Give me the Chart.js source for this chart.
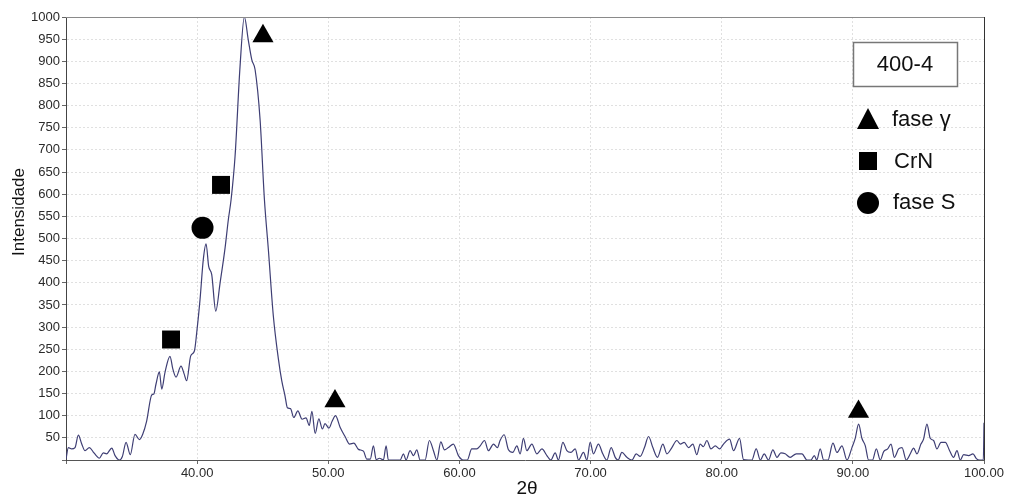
<!DOCTYPE html>
<html>
<head>
<meta charset="utf-8">
<title>DRX 400-4</title>
<script src="https://cdn.jsdelivr.net/npm/chart.js@4.4.1/dist/chart.umd.min.js"></script>
<style>
  html, body { margin: 0; padding: 0; background: #fff; }
  #wrap { width: 1010px; height: 502px; }
</style>
</head>
<body>
<div id="wrap"><canvas id="xrd" width="1010" height="502"></canvas></div>
<script>
// difratograma da amostra 400-4 (2θ x intensidade)
const twoTheta = [
  30.00, 30.18, 30.43, 30.69, 30.94, 31.20, 31.45, 31.78, 32.08, 32.30, 32.54, 32.85, 33.10, 33.49, 33.74,
  34.07, 34.30, 34.58, 34.90, 35.26, 35.60, 35.85, 36.15, 36.54, 36.70, 36.86, 37.12, 37.30, 37.55, 37.93,
  38.15, 38.39, 38.77, 39.00, 39.20, 39.51, 39.79, 39.97, 40.22, 40.47, 40.68, 40.88, 41.11, 41.42, 41.75,
  42.13, 42.38, 42.59, 42.89, 43.27, 43.60, 43.90, 44.17, 44.42, 44.80, 45.13, 45.43, 45.81, 46.20, 46.45,
  46.70, 46.88, 47.12, 47.37, 47.68, 48.00, 48.30, 48.55, 48.75, 49.00, 49.28, 49.55, 49.75, 50.05, 50.30,
  50.55, 50.90, 51.28, 51.63, 51.95, 52.30, 52.68, 52.94, 53.20, 53.44, 53.65, 53.90, 54.20, 54.41, 54.58,
  55.00, 55.48, 55.73, 55.93, 56.24, 56.50, 56.75, 57.00, 57.38, 57.71, 58.02, 58.28, 58.58, 58.86, 59.16,
  59.54, 59.92, 60.30, 60.60, 60.94, 61.32, 61.58, 61.91, 62.21, 62.60, 62.90, 63.10, 63.41, 63.74, 64.07,
  64.38, 64.63, 64.88, 65.14, 65.52, 65.90, 66.29, 66.67, 66.97, 67.30, 67.55, 67.89, 68.19, 68.50, 68.83,
  69.08, 69.46, 69.72, 69.97, 70.22, 70.60, 70.93, 71.24, 71.57, 71.88, 72.10, 72.39, 72.77, 73.15, 73.48,
  73.78, 74.11, 74.42, 74.75, 75.10, 75.51, 75.82, 76.20, 76.58, 76.84, 77.14, 77.47, 77.80, 78.10, 78.36,
  78.60, 78.87, 79.18, 79.51, 79.84, 80.14, 80.60, 80.90, 81.36, 81.66, 82.05, 82.30, 82.63, 82.94, 83.24,
  83.57, 83.90, 84.21, 84.51, 84.84, 85.22, 85.68, 86.12, 86.50, 86.80, 87.06, 87.25, 87.51, 87.77, 88.10,
  88.48, 88.79, 89.17, 89.55, 89.93, 90.18, 90.44, 90.69, 90.95, 91.20, 91.50, 91.79, 92.09, 92.35, 92.65,
  92.91, 93.16, 93.49, 93.75, 94.07, 94.38, 94.63, 94.89, 95.19, 95.39, 95.65, 95.90, 96.16, 96.41, 96.72,
  97.05, 97.38, 97.68, 97.94, 98.19, 98.45, 98.83, 99.16, 99.42, 99.67, 99.95, 100.00
];
const intensidade = [
  2, 28, 25, 28, 56, 36, 21, 28, 18, 10, 4, 16, 14, 27, 10,
  0, 8, 40, 12, 58, 46, 58, 88, 147, 149, 171, 199, 160, 198, 234,
  205, 187, 212, 195, 179, 235, 246, 288, 362, 453, 488, 437, 419, 336, 400,
  479, 543, 588, 685, 888, 1000, 948, 903, 881, 768, 588, 475, 325, 227, 179,
  145, 118, 116, 96, 111, 92, 95, 78, 110, 60, 93, 70, 82, 72, 88,
  100, 74, 53, 36, 38, 24, 20, 2, 2, 32, 1, 4, 0, 32, 0,
  0, 0, 14, 0, 21, 10, 23, 0, 0, 44, 21, 0, 41, 23, 28,
  36, 10, 0, 0, 25, 25, 32, 44, 21, 36, 28, 44, 57, 23, 17,
  32, 14, 49, 21, 36, 14, 25, 10, 0, 16, 0, 40, 21, 17, 25,
  0, 17, 0, 40, 14, 36, 14, 0, 28, 6, 0, 17, 6, 0, 14,
  8, 28, 53, 28, 6, 36, 14, 28, 44, 36, 40, 28, 36, 12, 36,
  30, 44, 25, 32, 25, 36, 47, 21, 49, 1, 0, 0, 25, 0, 14,
  0, 23, 6, 16, 14, 6, 14, 14, 0, 0, 10, 0, 25, 0, 0,
  38, 17, 32, 0, 28, 49, 81, 49, 32, 0, 0, 25, 0, 19, 25,
  36, 6, 25, 28, 0, 14, 27, 14, 36, 47, 81, 49, 44, 25, 40,
  40, 21, 6, 21, 0, 12, 10, 14, 3, 0, 0, 84
];

// picos identificados
const faseGamaX = [45.02, 50.51, 90.43];
const faseGamaY = [957, 133, 109];
const crnX = [38.01, 41.82];
const crnY = [272, 621];
const faseSX = [40.41];
const faseSY = [524];

const xTicks = [30, 40, 50, 60, 70, 80, 90, 100];
const tituloAmostra = "400-4";
const legendaFases = ["fase γ", "CrN", "fase S"];

const pares = (xs, ys) => xs.map((x, i) => ({ x, y: ys[i] }));

const gridCor = "#e0e0e0";

// moldura, títulos dos eixos e caixa de legenda
const anotacoes = {
  id: "anotacoes",
  afterDraw(chart) {
    const { ctx, chartArea: a } = chart;
    ctx.save();
    ctx.setLineDash([]);
    ctx.lineWidth = 1;
    ctx.strokeStyle = "#8a8a8a";
    ctx.beginPath();
    ctx.moveTo(a.left, a.top + 0.5);
    ctx.lineTo(a.right, a.top + 0.5);
    ctx.stroke();
    ctx.strokeStyle = "#333";
    ctx.beginPath();
    ctx.moveTo(a.right + 0.5, a.top);
    ctx.lineTo(a.right + 0.5, a.bottom);
    ctx.stroke();

    ctx.fillStyle = "#111";
    ctx.textAlign = "center";
    ctx.textBaseline = "middle";
    ctx.font = "19px 'Liberation Sans', Arial, sans-serif";
    ctx.fillText("2θ", 527, 489);
    ctx.font = "17px 'Liberation Sans', Arial, sans-serif";
    ctx.save();
    ctx.translate(19, 212);
    ctx.rotate(-Math.PI / 2);
    ctx.fillText("Intensidade", 0, 0);
    ctx.restore();

    // caixa com o nome da amostra
    ctx.fillStyle = "#fff";
    ctx.fillRect(853, 42, 105, 45);
    ctx.strokeStyle = "#777";
    ctx.lineWidth = 1.5;
    ctx.strokeRect(853.5, 42.5, 104, 44);
    ctx.fillStyle = "#111";
    ctx.font = "22px 'Liberation Sans', Arial, sans-serif";
    ctx.fillText(tituloAmostra, 905, 65);

    // símbolos da legenda
    ctx.fillStyle = "#000";
    ctx.beginPath();
    ctx.moveTo(868, 108);
    ctx.lineTo(879, 129);
    ctx.lineTo(857, 129);
    ctx.closePath();
    ctx.fill();
    ctx.fillRect(859, 152, 18, 18);
    ctx.beginPath();
    ctx.arc(868, 203, 11, 0, Math.PI * 2);
    ctx.fill();

    ctx.fillStyle = "#111";
    ctx.textAlign = "left";
    ctx.fillText(legendaFases[0], 892, 120);
    ctx.fillText(legendaFases[1], 894, 162);
    ctx.fillText(legendaFases[2], 893, 203);
    ctx.restore();
  }
};

const marcador = (label, data, style, radius) => ({
  label,
  data,
  showLine: false,
  pointStyle: style,
  pointRadius: radius,
  pointHoverRadius: radius,
  pointBackgroundColor: "#000",
  pointBorderColor: "#000",
  pointBorderWidth: 0,
  clip: false
});

Chart.defaults.font.family = "'Liberation Sans', Arial, sans-serif";

new Chart(document.getElementById("xrd"), {
  type: "line",
  data: {
    datasets: [
      {
        label: tituloAmostra,
        data: pares(twoTheta, intensidade),
        borderColor: "#3e3e74",
        borderWidth: 1.2,
        pointRadius: 0,
        cubicInterpolationMode: "monotone",
        fill: false
      },
      marcador(legendaFases[0], pares(faseGamaX, faseGamaY), "triangle", 12.2),
      marcador(legendaFases[1], pares(crnX, crnY), "rect", 12.7),
      marcador(legendaFases[2], pares(faseSX, faseSY), "circle", 11)
    ]
  },
  options: {
    responsive: false,
    animation: false,
    devicePixelRatio: 1,
    layout: { padding: { top: 17, right: 26, left: 0, bottom: 0 } },
    plugins: { legend: { display: false }, tooltip: { enabled: false } },
    scales: {
      x: {
        type: "linear",
        min: 30,
        max: 100,
        afterBuildTicks: (scale) => { scale.ticks = xTicks.map((v) => ({ value: v })); },
        afterFit: (scale) => { scale.height = 42; },
        border: { color: "#555", width: 1, dash: [2, 2] },
        grid: {
          color: (c) => (c.tick && (c.tick.value === 30 || c.tick.value === 100) ? "rgba(0,0,0,0)" : gridCor),
          tickLength: 4,
          tickColor: "#666",
          tickBorderDash: []
        },
        ticks: {
          color: "#2a2a2a",
          font: { size: 13 },
          padding: 2,
          maxRotation: 0,
          callback: (v) => (v === 30 ? "" : v.toFixed(2))
        }
      },
      y: {
        min: 0,
        max: 1000,
        afterFit: (scale) => { scale.width = 66; },
        border: { color: "#444", width: 1, dash: [2, 2] },
        grid: {
          color: (c) => (c.tick && c.tick.value === 0 ? "rgba(0,0,0,0)" : gridCor),
          tickLength: 4,
          tickColor: "#666",
          tickBorderDash: []
        },
        ticks: {
          stepSize: 50,
          color: "#2a2a2a",
          font: { size: 13 },
          padding: 2,
          callback: (v) => (v === 0 ? "" : v)
        }
      }
    }
  },
  plugins: [anotacoes]
});
</script>
</body>
</html>
